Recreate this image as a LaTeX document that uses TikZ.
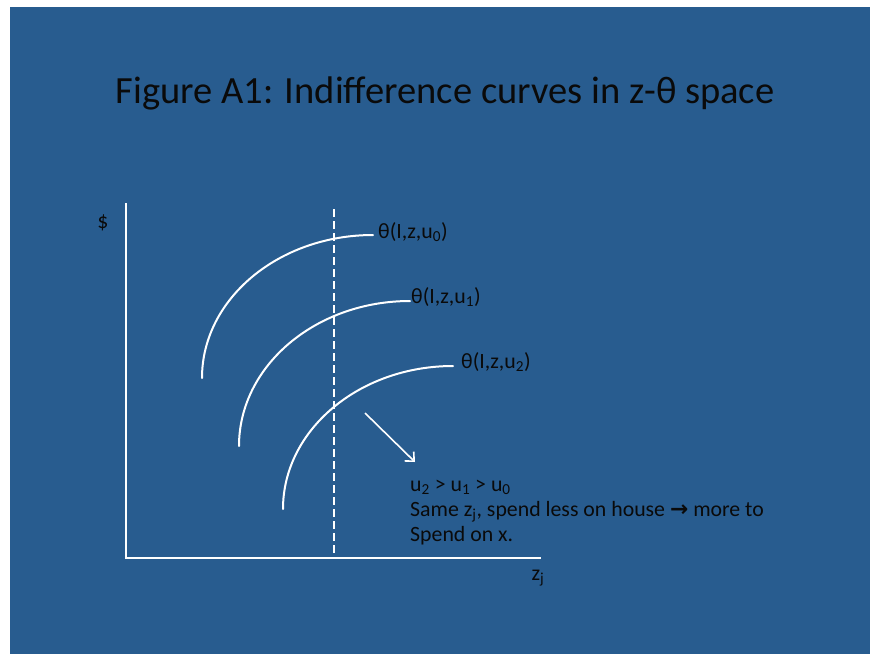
\documentclass[tikz,border=0pt]{standalone}
\usepackage{fontspec}
\setmainfont{Carlito}
\newfontfamily\arrowfont{DejaVu Sans}
\usetikzlibrary{arrows.meta}
\definecolor{slideblue}{HTML}{285C8F}
\definecolor{ink}{HTML}{0A0A0A}
\tikzset{
  wline/.style={draw=white, line width=2pt},
  lbl/.style={text=ink, font=\fontsize{21.8}{25}\selectfont, inner sep=0pt},
  icurve/.style={wline, line cap=round},
}
\begin{document}
\begin{tikzpicture}[x=1pt,y=-1pt]
\useasboundingbox (0,0) rectangle (870,654);
\fill[white] (0,0) rectangle (870,654);
\fill[slideblue] (10,7) rectangle (870,654);
% title
\node[text=ink, font=\fontsize{38.5}{46}\selectfont, anchor=base, inner sep=0pt] (title) at (445,103) {Figure A1: Indifference curves in z-θ space};
% axes
\coordinate (ytop) at (126,203);
\coordinate (origin) at (126,558);
\coordinate (xend) at (541,558);
\draw[wline] (ytop) -- (origin) -- (xend);
\node[lbl, anchor=base] (dollar) at (103,228) {\$};
\node[lbl, anchor=base] (zj) at (538,580) {z\textsubscript{j}};
% dashed line
\coordinate (dtop) at (334,209);
\coordinate (dbot) at (334,558);
\draw[draw=white, line width=2pt, dash pattern=on 8pt off 4pt] (dtop) -- (dbot);
% indifference curves
\draw[icurve] (202,378) arc[start angle=180, end angle=270, x radius=171, y radius=143];
\draw[icurve] (239,446) arc[start angle=180, end angle=270, x radius=171, y radius=145];
\draw[icurve] (283,509) arc[start angle=180, end angle=270, x radius=170, y radius=143];
\node[lbl, anchor=base west] (c0) at (378,238) {θ(I,z,u\textsubscript{0})};
\node[lbl, anchor=base west] (c1) at (411,303) {θ(I,z,u\textsubscript{1})};
\node[lbl, anchor=base west] (c2) at (461,368) {θ(I,z,u\textsubscript{2})};
% arrow
\coordinate (as) at (365,413);
\coordinate (ae) at (415,462);
\draw[draw=white, line width=1.6pt, -{Straight Barb[length=7pt,width=13pt,line width=1.6pt]}] (as) -- (ae);
% text block
\node[lbl, anchor=base west, align=left] (note) at (410,541) {u\textsubscript{2} > u\textsubscript{1} > u\textsubscript{0}\\Same z\textsubscript{j}, spend less on house {\arrowfont\bfseries →} more to\\Spend on x.};
\end{tikzpicture}
\end{document}
